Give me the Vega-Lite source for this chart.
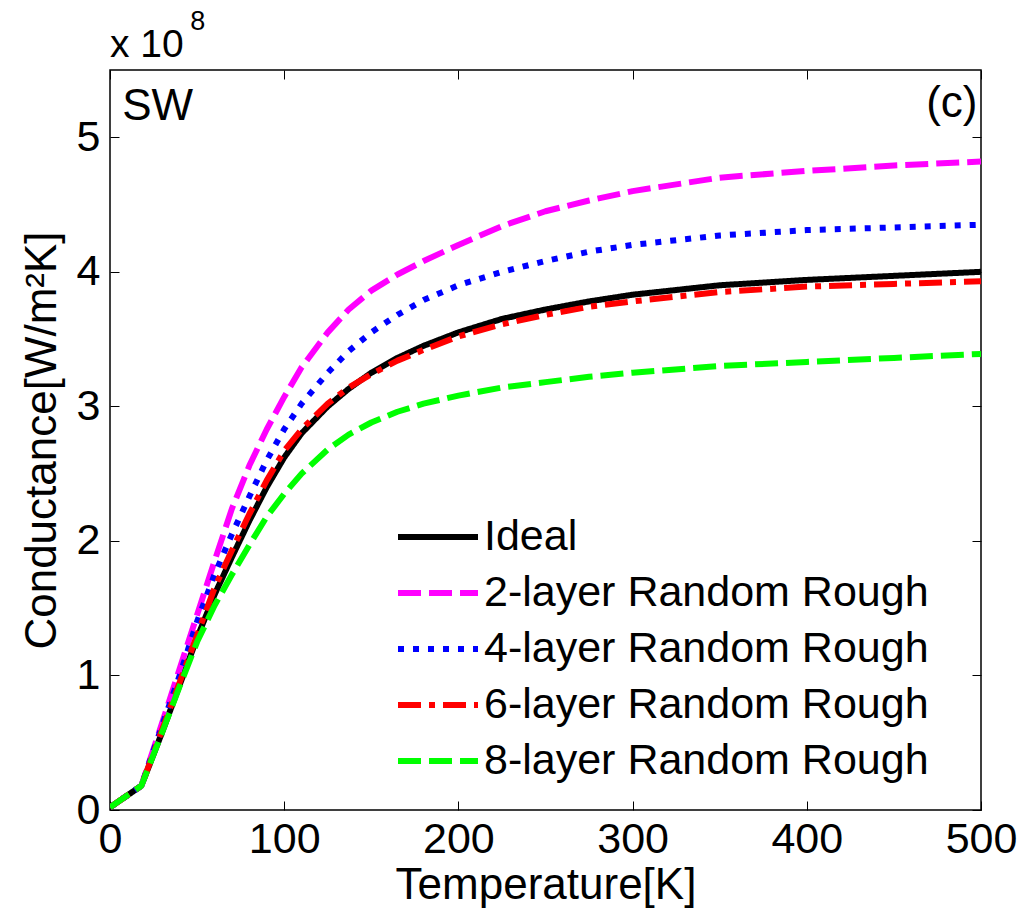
{
  "$schema": "https://vega.github.io/schema/vega-lite/v6.json",
  "autosize": "none",
  "width": 871,
  "height": 740,
  "padding": {"left": 110, "top": 70, "right": 43, "bottom": 109},
  "background": "white",
  "config": {
    "font": "Liberation Sans",
    "view": {"stroke": "black", "strokeWidth": 1.5},
    "axis": {"domain": false, "grid": false, "labelFlush": false, "labelOverlap": false, "tickColor": "black", "tickSize": -9, "tickWidth": 1, "labelColor": "black", "labelFont": "Liberation Sans", "labelFontSize": 43, "titleFont": "Liberation Sans", "titleFontSize": 44, "titleFontWeight": "normal", "titleColor": "black"}
  },
  "datasets": {
    "curves": [
      {"T":0,"G":0.02,"s":"Ideal"},{"T":18,"G":0.18,"s":"Ideal"},{"T":30,"G":0.58,"s":"Ideal"},{"T":40,"G":0.93,"s":"Ideal"},{"T":50,"G":1.28,"s":"Ideal"},{"T":60,"G":1.6,"s":"Ideal"},{"T":70,"G":1.88,"s":"Ideal"},{"T":80,"G":2.15,"s":"Ideal"},{"T":90,"G":2.4,"s":"Ideal"},{"T":100,"G":2.62,"s":"Ideal"},{"T":110,"G":2.8,"s":"Ideal"},{"T":125,"G":3.0,"s":"Ideal"},{"T":137,"G":3.13,"s":"Ideal"},{"T":150,"G":3.25,"s":"Ideal"},{"T":165,"G":3.36,"s":"Ideal"},{"T":180,"G":3.45,"s":"Ideal"},{"T":200,"G":3.55,"s":"Ideal"},{"T":225,"G":3.65,"s":"Ideal"},{"T":250,"G":3.72,"s":"Ideal"},{"T":275,"G":3.78,"s":"Ideal"},{"T":300,"G":3.83,"s":"Ideal"},{"T":350,"G":3.9,"s":"Ideal"},{"T":400,"G":3.94,"s":"Ideal"},{"T":450,"G":3.97,"s":"Ideal"},{"T":500,"G":4.0,"s":"Ideal"},
      {"T":0,"G":0.02,"s":"2-layer Random Rough"},{"T":18,"G":0.18,"s":"2-layer Random Rough"},{"T":30,"G":0.65,"s":"2-layer Random Rough"},{"T":40,"G":1.05,"s":"2-layer Random Rough"},{"T":50,"G":1.45,"s":"2-layer Random Rough"},{"T":60,"G":1.85,"s":"2-layer Random Rough"},{"T":70,"G":2.24,"s":"2-layer Random Rough"},{"T":80,"G":2.56,"s":"2-layer Random Rough"},{"T":90,"G":2.83,"s":"2-layer Random Rough"},{"T":100,"G":3.07,"s":"2-layer Random Rough"},{"T":110,"G":3.29,"s":"2-layer Random Rough"},{"T":125,"G":3.55,"s":"2-layer Random Rough"},{"T":137,"G":3.72,"s":"2-layer Random Rough"},{"T":150,"G":3.86,"s":"2-layer Random Rough"},{"T":165,"G":3.98,"s":"2-layer Random Rough"},{"T":180,"G":4.08,"s":"2-layer Random Rough"},{"T":200,"G":4.2,"s":"2-layer Random Rough"},{"T":225,"G":4.34,"s":"2-layer Random Rough"},{"T":250,"G":4.45,"s":"2-layer Random Rough"},{"T":275,"G":4.53,"s":"2-layer Random Rough"},{"T":300,"G":4.6,"s":"2-layer Random Rough"},{"T":350,"G":4.7,"s":"2-layer Random Rough"},{"T":400,"G":4.75,"s":"2-layer Random Rough"},{"T":450,"G":4.79,"s":"2-layer Random Rough"},{"T":500,"G":4.82,"s":"2-layer Random Rough"},
      {"T":0,"G":0.02,"s":"4-layer Random Rough"},{"T":18,"G":0.18,"s":"4-layer Random Rough"},{"T":30,"G":0.63,"s":"4-layer Random Rough"},{"T":40,"G":1.0,"s":"4-layer Random Rough"},{"T":50,"G":1.4,"s":"4-layer Random Rough"},{"T":60,"G":1.75,"s":"4-layer Random Rough"},{"T":70,"G":2.05,"s":"4-layer Random Rough"},{"T":80,"G":2.33,"s":"4-layer Random Rough"},{"T":90,"G":2.6,"s":"4-layer Random Rough"},{"T":100,"G":2.83,"s":"4-layer Random Rough"},{"T":110,"G":3.02,"s":"4-layer Random Rough"},{"T":125,"G":3.25,"s":"4-layer Random Rough"},{"T":137,"G":3.41,"s":"4-layer Random Rough"},{"T":150,"G":3.55,"s":"4-layer Random Rough"},{"T":165,"G":3.68,"s":"4-layer Random Rough"},{"T":180,"G":3.79,"s":"4-layer Random Rough"},{"T":200,"G":3.9,"s":"4-layer Random Rough"},{"T":225,"G":4.0,"s":"4-layer Random Rough"},{"T":250,"G":4.08,"s":"4-layer Random Rough"},{"T":275,"G":4.15,"s":"4-layer Random Rough"},{"T":300,"G":4.2,"s":"4-layer Random Rough"},{"T":350,"G":4.27,"s":"4-layer Random Rough"},{"T":400,"G":4.31,"s":"4-layer Random Rough"},{"T":450,"G":4.33,"s":"4-layer Random Rough"},{"T":500,"G":4.35,"s":"4-layer Random Rough"},
      {"T":0,"G":0.02,"s":"6-layer Random Rough"},{"T":18,"G":0.18,"s":"6-layer Random Rough"},{"T":30,"G":0.6,"s":"6-layer Random Rough"},{"T":40,"G":0.95,"s":"6-layer Random Rough"},{"T":50,"G":1.3,"s":"6-layer Random Rough"},{"T":60,"G":1.65,"s":"6-layer Random Rough"},{"T":70,"G":1.93,"s":"6-layer Random Rough"},{"T":80,"G":2.2,"s":"6-layer Random Rough"},{"T":90,"G":2.45,"s":"6-layer Random Rough"},{"T":100,"G":2.67,"s":"6-layer Random Rough"},{"T":110,"G":2.83,"s":"6-layer Random Rough"},{"T":125,"G":3.02,"s":"6-layer Random Rough"},{"T":137,"G":3.14,"s":"6-layer Random Rough"},{"T":150,"G":3.24,"s":"6-layer Random Rough"},{"T":165,"G":3.34,"s":"6-layer Random Rough"},{"T":180,"G":3.42,"s":"6-layer Random Rough"},{"T":200,"G":3.52,"s":"6-layer Random Rough"},{"T":225,"G":3.61,"s":"6-layer Random Rough"},{"T":250,"G":3.68,"s":"6-layer Random Rough"},{"T":275,"G":3.74,"s":"6-layer Random Rough"},{"T":300,"G":3.78,"s":"6-layer Random Rough"},{"T":350,"G":3.85,"s":"6-layer Random Rough"},{"T":400,"G":3.89,"s":"6-layer Random Rough"},{"T":450,"G":3.91,"s":"6-layer Random Rough"},{"T":500,"G":3.93,"s":"6-layer Random Rough"},
      {"T":0,"G":0.02,"s":"8-layer Random Rough"},{"T":18,"G":0.18,"s":"8-layer Random Rough"},{"T":30,"G":0.58,"s":"8-layer Random Rough"},{"T":40,"G":0.92,"s":"8-layer Random Rough"},{"T":50,"G":1.25,"s":"8-layer Random Rough"},{"T":60,"G":1.52,"s":"8-layer Random Rough"},{"T":70,"G":1.75,"s":"8-layer Random Rough"},{"T":80,"G":1.97,"s":"8-layer Random Rough"},{"T":90,"G":2.18,"s":"8-layer Random Rough"},{"T":100,"G":2.35,"s":"8-layer Random Rough"},{"T":110,"G":2.5,"s":"8-layer Random Rough"},{"T":125,"G":2.68,"s":"8-layer Random Rough"},{"T":137,"G":2.79,"s":"8-layer Random Rough"},{"T":150,"G":2.88,"s":"8-layer Random Rough"},{"T":165,"G":2.96,"s":"8-layer Random Rough"},{"T":180,"G":3.02,"s":"8-layer Random Rough"},{"T":200,"G":3.08,"s":"8-layer Random Rough"},{"T":225,"G":3.14,"s":"8-layer Random Rough"},{"T":250,"G":3.18,"s":"8-layer Random Rough"},{"T":275,"G":3.22,"s":"8-layer Random Rough"},{"T":300,"G":3.25,"s":"8-layer Random Rough"},{"T":350,"G":3.3,"s":"8-layer Random Rough"},{"T":400,"G":3.33,"s":"8-layer Random Rough"},{"T":450,"G":3.36,"s":"8-layer Random Rough"},{"T":500,"G":3.39,"s":"8-layer Random Rough"}
    ],
    "notesLeft": [
      {"label": "x 10", "T": 0, "G": 5.6, "size": 39},
      {"label": "8", "T": 46, "G": 5.8, "size": 27},
      {"label": "SW", "T": 7, "G": 5.13, "size": 44}
    ],
    "notesRight": [
      {"label": "(c)", "T": 498, "G": 5.15, "size": 44}
    ]
  },
  "resolve": {"axis": {"x": "independent", "y": "independent"}},
  "layer": [
    {
      "data": {"name": "curves"},
      "mark": {"type": "line", "strokeWidth": 6, "strokeCap": "butt", "strokeJoin": "round", "clip": true},
      "encoding": {
        "x": {"field": "T", "type": "quantitative", "scale": {"domain": [0, 500], "nice": false}, "axis": {"values": [0,100,200,300,400,500], "title": "Temperature[K]", "labelPadding": 17, "titlePadding": 2}},
        "y": {"field": "G", "type": "quantitative", "scale": {"domain": [0, 5.5], "nice": false}, "axis": {"values": [0,1,2,3,4,5], "title": "Conductance[W/m²K]", "labelPadding": 19, "titlePadding": 12}},
        "color": {"field": "s", "type": "nominal", "scale": {"domain": ["Ideal","2-layer Random Rough","4-layer Random Rough","6-layer Random Rough","8-layer Random Rough"], "range": ["#000000","#ff00ff","#0000ff","#ff0000","#00ff00"]},
          "legend": {"title": null, "orient": "none", "legendX": 285, "legendY": 439, "symbolType": "stroke", "symbolSize": 6400, "symbolStrokeWidth": 6, "labelFontSize": 43, "labelFont": "Liberation Sans", "labelColor": "black", "labelOffset": 3, "labelLimit": 700, "clipHeight": 56, "rowPadding": 0, "padding": 0}},
        "strokeDash": {"field": "s", "type": "nominal", "scale": {"domain": ["Ideal","2-layer Random Rough","4-layer Random Rough","6-layer Random Rough","8-layer Random Rough"], "range": [[1,0],[23,8],[6,9],[23,8,6,8],[23,8]]}, "legend": {"title": null}},
        "order": {"field": "T", "type": "quantitative"}
      }
    },
    {
      "data": {"name": "notesLeft"},
      "mark": {"type": "text", "font": "Liberation Sans", "align": "left", "baseline": "alphabetic", "color": "black", "clip": false},
      "encoding": {
        "x": {"field": "T", "type": "quantitative", "axis": {"orient": "top", "values": [0,100,200,300,400,500], "labels": false, "title": null}},
        "y": {"field": "G", "type": "quantitative", "axis": {"orient": "right", "values": [0,1,2,3,4,5], "labels": false, "title": null}},
        "text": {"field": "label"},
        "size": {"field": "size", "type": "quantitative", "scale": null}
      }
    },
    {
      "data": {"name": "notesRight"},
      "mark": {"type": "text", "font": "Liberation Sans", "align": "right", "baseline": "alphabetic", "color": "black", "clip": false},
      "encoding": {
        "x": {"field": "T", "type": "quantitative", "axis": null},
        "y": {"field": "G", "type": "quantitative", "axis": null},
        "text": {"field": "label"},
        "size": {"field": "size", "type": "quantitative", "scale": null}
      }
    }
  ]
}
